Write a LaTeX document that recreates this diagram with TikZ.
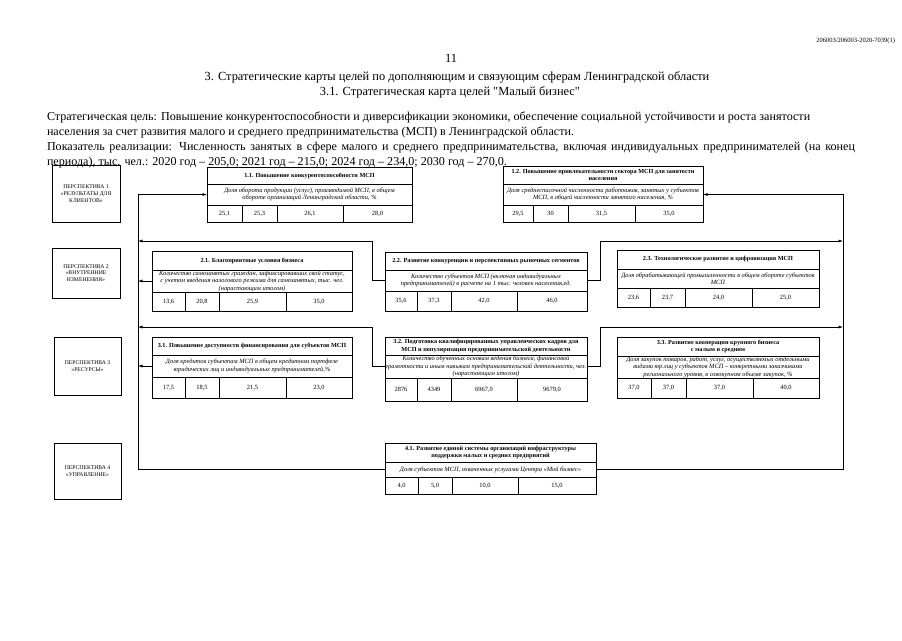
\documentclass[tikz,border=0pt]{standalone}
\usepackage{fontspec}
\setmainfont{Liberation Serif}
\newfontfamily\plainq{Liberation Serif}[Ligatures=TeXOff]
\usetikzlibrary{arrows.meta,calc}
\newcommand\mainf{\fontsize{12.4}{15}\selectfont}
\newcommand\parf{\fontsize{12.1}{15}\selectfont}
\newcommand\ttlf{\fontsize{6.2}{7.6}\selectfont\bfseries}
\newcommand\dscf{\fontsize{6.4}{7.4}\selectfont\itshape}
\newcommand\valf{\fontsize{6.4}{7.4}\selectfont}
\newcommand\perf{\fontsize{5.7}{6.7}\selectfont}
\begin{document}
\begin{tikzpicture}[x=1pt,y=-1pt,
  cell/.style={draw, line width=0.65pt, inner sep=0pt, outer sep=0pt, anchor=north west, align=center},
  sz/.style 2 args={minimum width=#1pt, minimum height=#2pt},
  ttl/.style={cell, font=\ttlf},
  dsc/.style={cell, font=\dscf},
  val/.style={cell, font=\valf},
  per/.style={cell, font=\perf},
  txt/.style={inner sep=0pt, outer sep=0pt, font=\mainf},
  ptxt/.style={inner sep=0pt, outer sep=0pt, font=\parf},
  conn/.style={draw, line width=0.6pt},
  arr/.style={-{Latex[length=4.5pt,width=3pt]}}
]
\useasboundingbox[fill=white] (0,0) rectangle (902,640);

% header
\node[txt, anchor=base east, font=\fontsize{6.5}{8}\selectfont] (code) at (895,42) {206003/206003-2020-7039(1)};
\node[txt, anchor=base] (pg) at (451,62) {11};
\node[txt, anchor=base] (hd1) at (457,80) {3. Стратегические карты целей по дополняющим и связующим сферам Ленинградской области};
\node[txt, anchor=base] (hd2) at (450,95) {3.1. Стратегическая карта целей {\plainq"}Малый бизнес{\plainq"}};

\node[ptxt, anchor=base west] (s1) at (47,120) {Стратегическая цель: Повышение конкурентоспособности и диверсификации экономики, обеспечение социальной устойчивости и роста занятости};
\node[ptxt, anchor=base west] (s2) at (47,135) {населения за счет развития малого и среднего предпринимательства (МСП) в Ленинградской области.};
\node[ptxt, anchor=base west] (s3) at (47,150) {\makebox[808pt][s]{Показатель реализации: Численность занятых в сфере малого и среднего предпринимательства, включая индивидуальных предпринимателей (на конец}};
\node[ptxt, anchor=base west] (s4) at (47,165) {периода), тыс. чел.: 2020 год – 205,0; 2021 год – 215,0; 2024 год – 234,0; 2030 год – 270,0.};

% perspectives
\node[per, sz={68}{57}] (p1) at (52,165) {ПЕРСПЕКТИВА 1\\«РЕЗУЛЬТАТЫ ДЛЯ\\КЛИЕНТОВ»};
\node[per, sz={68}{50}] (p2) at (52,248) {ПЕРСПЕКТИВА 2\\«ВНУТРЕННИЕ\\ИЗМЕНЕНИЯ»};
\node[per, sz={67}{58}] (p3) at (54,337) {ПЕРСПЕКТИВА 3\\«РЕСУРСЫ»};
\node[per, sz={67}{56}] (p4) at (54,443) {ПЕРСПЕКТИВА 4\\«УПРАВЛЕНИЕ»};

% 1.1
\node[ttl, sz={205}{17}] (g11t) at (207,167) {1.1. Повышение конкурентоспособности МСП};
\node[dsc, sz={205}{21}] (g11d) at (g11t.south west) {Доля оборота продукции (услуг), производимой МСП, в общем\\обороте организаций Ленинградской области, \%};
\node[val, sz={35}{17}] (g11a) at (g11d.south west) {25,1};
\node[val, sz={35}{17}] (g11b) at (g11a.north east) {25,3};
\node[val, sz={66}{17}] (g11c) at (g11b.north east) {26,1};
\node[val, sz={69}{17}] (g11e) at (g11c.north east) {28,0};

% 1.2
\node[ttl, sz={200}{18}] (g12t) at (503,166) {1.2. Повышение привлекательности сектора МСП для занятости\\населения};
\node[dsc, sz={200}{21}] (g12d) at (g12t.south west) {Доля среднесписочной численности работников, занятых у субъектов\\МСП, в общей численности занятого населения, \%};
\node[val, sz={30}{17}] (g12a) at (g12d.south west) {29,5};
\node[val, sz={35}{17}] (g12b) at (g12a.north east) {30};
\node[val, sz={67}{17}] (g12c) at (g12b.north east) {31,5};
\node[val, sz={68}{17}] (g12e) at (g12c.north east) {35,0};

% 2.1
\node[ttl, sz={200}{19}] (g21t) at (152,251) {2.1. Благоприятные условия бизнеса};
\node[dsc, sz={200}{22}] (g21d) at (g21t.south west) {Количество самозанятых граждан, зафиксировавших свой статус,\\с учетом введения налогового режима для самозанятых, тыс. чел.\\(нарастающим итогом)};
\node[val, sz={33}{19}] (g21a) at (g21d.south west) {13,6};
\node[val, sz={34}{19}] (g21b) at (g21a.north east) {20,8};
\node[val, sz={67}{19}] (g21c) at (g21b.north east) {25,9};
\node[val, sz={66}{19}] (g21e) at (g21c.north east) {35,0};

% 2.2
\node[ttl, sz={202}{18}] (g22t) at (385,252) {2.2. Развитие конкуренции и перспективных рыночных сегментов};
\node[dsc, sz={202}{21}] (g22d) at (g22t.south west) {Количество субъектов МСП (включая индивидуальных\\предпринимателей) в расчете на 1 тыс. человек населения,ед.};
\node[val, sz={32}{20}] (g22a) at (g22d.south west) {35,6};
\node[val, sz={34}{20}] (g22b) at (g22a.north east) {37,3};
\node[val, sz={66}{20}] (g22c) at (g22b.north east) {42,0};
\node[val, sz={70}{20}] (g22e) at (g22c.north east) {46,0};

% 2.3
\node[ttl, sz={202}{19}] (g23t) at (617,250) {2.3. Технологическое развитие и цифровизация МСП};
\node[dsc, sz={202}{19}] (g23d) at (g23t.south west) {Доля обрабатывающей промышленности в общем обороте субъектов\\МСП};
\node[val, sz={33}{19}] (g23a) at (g23d.south west) {23,6};
\node[val, sz={35}{19}] (g23b) at (g23a.north east) {23,7};
\node[val, sz={67}{19}] (g23c) at (g23b.north east) {24,0};
\node[val, sz={67}{19}] (g23e) at (g23c.north east) {25,0};

% 3.1
\node[ttl, sz={200}{18}] (g31t) at (152,337) {3.1. Повышение доступности финансирования для субъектов МСП};
\node[dsc, sz={200}{22}] (g31d) at (g31t.south west) {Доля кредитов субъектам МСП в общем кредитном портфеле\\юридических лиц и индивидуальных предпринимателей,\%};
\node[val, sz={33}{21}] (g31a) at (g31d.south west) {17,5};
\node[val, sz={34}{21}] (g31b) at (g31a.north east) {18,5};
\node[val, sz={67}{21}] (g31c) at (g31b.north east) {21,5};
\node[val, sz={66}{21}] (g31e) at (g31c.north east) {23,0};

% 3.2
\node[ttl, sz={202}{18}] (g32t) at (385,337) {3.2. Подготовка квалифицированных управленческих кадров для\\МСП и популяризация предпринимательской деятельности};
\node[dsc, sz={202}{23}] (g32d) at (g32t.south west) {Количество обученных основам ведения бизнеса, финансовой\\грамотности и иным навыкам предпринимательской деятельности, чел.\\(нарастающим итогом)};
\node[val, sz={32}{23}] (g32a) at (g32d.south west) {2876};
\node[val, sz={34}{23}] (g32b) at (g32a.north east) {4349};
\node[val, sz={66}{23}] (g32c) at (g32b.north east) {6967,0};
\node[val, sz={70}{23}] (g32e) at (g32c.north east) {9679,0};

% 3.3
\node[ttl, sz={202}{19}] (g33t) at (617,337) {3.3. Развитие кооперации крупного бизнеса\\с малым и средним};
\node[dsc, sz={202}{22}] (g33d) at (g33t.south west) {Доля закупок товаров, работ, услуг, осуществляемых отдельными\\видами юр.лиц у субъектов МСП – конкретными заказчиками\\регионального уровня, в совокупном объеме закупок, \%};
\node[val, sz={34}{20}] (g33a) at (g33d.south west) {37,0};
\node[val, sz={35}{20}] (g33b) at (g33a.north east) {37,0};
\node[val, sz={67}{20}] (g33c) at (g33b.north east) {37,0};
\node[val, sz={66}{20}] (g33e) at (g33c.north east) {40,0};

% 4.1
\node[ttl, sz={211}{19}] (g41t) at (385,443) {4.1. Развитие единой системы организаций инфраструктуры\\поддержки малых и средних предприятий};
\node[dsc, sz={211}{15}] (g41d) at (g41t.south west) {Доля субъектов МСП, охваченных услугами Центра «Мой бизнес»};
\node[val, sz={33}{17}] (g41a) at (g41d.south west) {4,0};
\node[val, sz={34}{17}] (g41b) at (g41a.north east) {5,0};
\node[val, sz={66}{17}] (g41c) at (g41b.north east) {10,0};
\node[val, sz={78}{17}] (g41e) at (g41c.north east) {15,0};

% connector guide coordinates
\coordinate (LX) at (138,0);
\coordinate (RX) at (843,0);
\coordinate (JL) at (372,0);
\coordinate (JR) at (600,0);
\coordinate (R2) at (0,241);
\coordinate (R3) at (0,327);

% connectors
\draw[conn, arr] (g41d.west) -| (LX |- g11d.west) -- (g11d.west);
\draw[conn, arr] (g41d.east) -| (RX |- g12d.east) -- (g12d.east);
\draw[conn, arr] (g22d.west) -- (JL |- g22d.west) |- (LX |- R2);
\draw[conn, arr] (g22d.east) -- (JR |- g22d.east) |- (RX |- R2);
\draw[conn, arr] (g32d.west) -- (JL |- g32d.west) |- (LX |- R3);
\draw[conn, arr] (g32d.east) -- (JR |- g32d.east) |- (RX |- R3);
\draw[conn, arr] (g21d.west) -- (LX |- g21d.west);
\draw[conn, arr] (g31d.west) -- (LX |- g31d.west);
\end{tikzpicture}
\end{document}
